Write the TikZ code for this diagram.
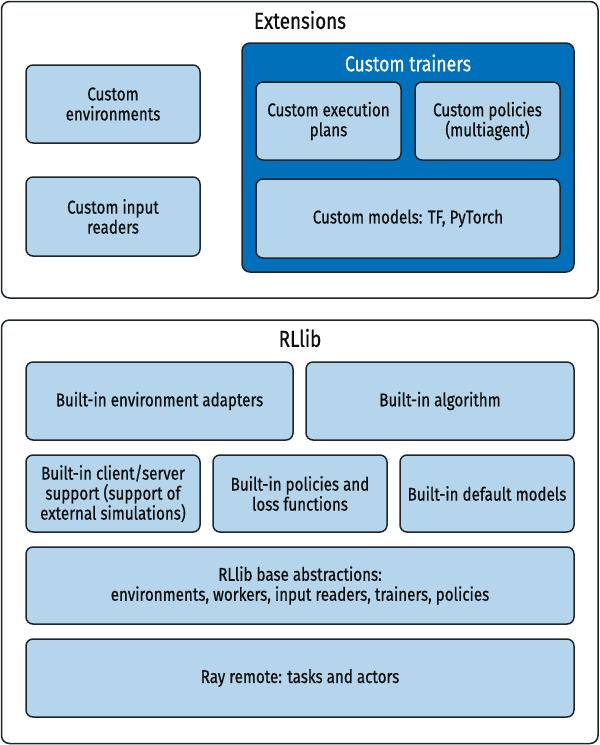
\documentclass[tikz,border=0pt]{standalone}
\usepackage{fontspec}
\setmainfont[FakeStretch=0.82,FakeBold=0.6]{Fira Sans}
\definecolor{boxblue}{RGB}{180,213,235}
\definecolor{trainblue}{RGB}{0,112,186}
\definecolor{linecol}{RGB}{30,38,46}
\definecolor{textcol}{RGB}{15,15,15}

\begin{document}
\begin{tikzpicture}[x=1pt,y=-1pt,
  panel/.style={draw=linecol, line width=1.5pt, rounded corners=8pt, fill=white},
  box/.style={draw=linecol, line width=1.5pt, rounded corners=7pt, fill=boxblue},
  lbl/.style={align=center, text=textcol, font=\fontsize{18.5}{20}\selectfont},
  ttl/.style={text=textcol, font=\fontsize{23}{26}\selectfont}]
\useasboundingbox (0,0) rectangle (600,745);

%%%%%%%%%%%%%%%%%%%%%%%%%%%%%%%%%%%%%%%%%%%%%%%%%%%%%%%%%%%%%%%%%%%%%%%%%%%%%%%%
\draw [panel] (1.5,1.5) rectangle (598,298); %extensions panel
\node [ttl] (ext) at (300,20) {Extensions};

\draw [box] (26,65) rectangle (200,143);
\node [lbl] (env) at (113,104) {Custom\\environments};
\draw [box] (26,177) rectangle (200,256);
\node [lbl] (readers) at (113,216.5) {Custom input\\readers};

\draw [draw=linecol, line width=1.5pt, rounded corners=8pt, fill=trainblue] (242,43) rectangle (574,272); %trainers
\node [ttl, text=white, font=\fontsize{21.5}{24}\selectfont] (trainers) at (408,63) {Custom trainers};
\draw [box] (256,82) rectangle (401,160);
\node [lbl] (plans) at (328.5,121) {Custom execution\\plans};
\draw [box] (415,82) rectangle (560,160);
\node [lbl] (policies) at (487.5,121) {Custom policies\\(multiagent)};
\draw [box] (256,179) rectangle (560,258);
\node [lbl] (models) at (408,218.5) {Custom models: TF, PyTorch};

%%%%%%%%%%%%%%%%%%%%%%%%%%%%%%%%%%%%%%%%%%%%%%%%%%%%%%%%%%%%%%%%%%%%%%%%%%%%%%%%
\draw [panel] (1.5,320) rectangle (598,743.5); %rllib panel
\node [ttl] (rllib) at (300,338) {RLlib};

\draw [box] (26,362) rectangle (293,440); %row 1
\node [lbl] (adapters) at (159.5,401) {Built-in environment adapters};
\draw [box] (306,362) rectangle (574,440);
\node [lbl] (algo) at (440,401) {Built-in algorithm};

\draw [box] (26,455) rectangle (200,532); %row 2
\node [lbl] (client) at (113,493.5) {Built-in client/server\\support (support of\\external simulations)};
\draw [box] (213,455) rectangle (387,532);
\node [lbl] (loss) at (300,493.5) {Built-in policies and\\loss functions};
\draw [box] (400,455) rectangle (574,532);
\node [lbl] (defmodels) at (487,493.5) {Built-in default models};

\draw [box] (26,547) rectangle (574,624); %row 3
\node [lbl] (base) at (300,585.5) {RLlib base abstractions:\\environments, workers, input readers, trainers, policies};

\draw [box] (26,639) rectangle (574,717); %row 4
\node [lbl] (ray) at (300,678) {Ray remote: tasks and actors};
\end{tikzpicture}
\end{document}
